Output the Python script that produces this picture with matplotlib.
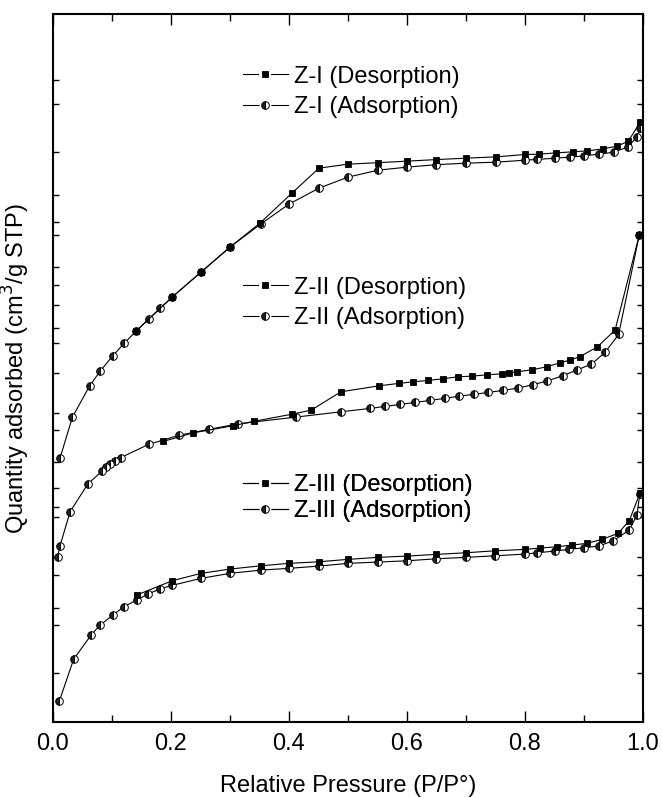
import numpy as np
import matplotlib.pyplot as plt
from matplotlib.lines import Line2D

plt.rcParams['font.family'] = ['Liberation Sans', 'DejaVu Sans']

# relative pressure P/P0 and quantity adsorbed (arbitrary offset units, axis unlabeled)
p_zi_ads = [0.012, 0.033, 0.062, 0.080, 0.101, 0.121, 0.141, 0.162, 0.182, 0.202, 0.251, 0.300,
            0.352, 0.400, 0.451, 0.500, 0.551, 0.600, 0.650, 0.700, 0.751, 0.801, 0.820, 0.851,
            0.876, 0.900, 0.926, 0.951, 0.975, 0.990, 0.996]
q_zi_ads = [264, 305, 336, 351, 366, 379, 391, 403, 414, 425, 450, 475,
            498, 518, 534, 545, 552, 555, 557.5, 559, 560, 562, 562.7, 564,
            565, 566.3, 568, 570, 575.3, 585.3, 594]
p_zi_des = [0.996, 0.975, 0.956, 0.932, 0.906, 0.881, 0.853, 0.824, 0.801, 0.751, 0.701, 0.650,
            0.600, 0.551, 0.500, 0.451, 0.405, 0.351, 0.300, 0.251, 0.202, 0.141]
q_zi_des = [600.3, 580.7, 576, 573.3, 571.3, 570.3, 569.3, 568, 567.7, 565.3, 564, 562.6,
            561, 559.5, 558, 554, 529, 499, 475, 450, 425, 391]

p_zii_ads = [0.008, 0.012, 0.029, 0.059, 0.083, 0.090, 0.097, 0.105, 0.115, 0.162, 0.213, 0.264,
             0.314, 0.412, 0.488, 0.538, 0.563, 0.589, 0.614, 0.639, 0.664, 0.689, 0.713, 0.738,
             0.763, 0.788, 0.813, 0.837, 0.864, 0.888, 0.913, 0.936, 0.959, 0.994]
q_zii_ads = [165.3, 176.3, 210.3, 238, 251, 255.3, 258, 261.3, 264.5, 277.7, 286.7, 292.7,
             298.3, 305, 310.3, 313.7, 315.7, 317.7, 319.7, 321.7, 323.7, 326, 327.7, 329.7,
             331.7, 334, 337.3, 341, 346.3, 352, 358, 369.7, 387.7, 487]
p_zii_des = [0.994, 0.953, 0.923, 0.893, 0.876, 0.860, 0.837, 0.812, 0.786, 0.773, 0.761, 0.736,
             0.711, 0.686, 0.661, 0.636, 0.611, 0.586, 0.553, 0.488, 0.438, 0.406, 0.340, 0.305,
             0.238, 0.187]
q_zii_des = [487, 392, 375.3, 365.3, 362, 359.3, 355.3, 352.3, 350.3, 349.3, 348.3, 347.3,
             346, 345.3, 343.3, 341.7, 340.3, 338.7, 336.3, 330.3, 312, 308, 300.7, 296.3,
             289.3, 280.7]

p_ziii_ads = [0.011, 0.035, 0.065, 0.080, 0.101, 0.120, 0.142, 0.161, 0.181, 0.202, 0.251, 0.300,
              0.353, 0.400, 0.451, 0.500, 0.551, 0.601, 0.650, 0.700, 0.750, 0.801, 0.821, 0.851,
              0.875, 0.900, 0.925, 0.950, 0.977, 0.990, 0.995]
q_ziii_ads = [21.3, 62.7, 87.3, 97, 106.7, 115.3, 122, 128, 133, 136.7, 143.7, 148.7,
              152, 153.7, 156, 158.7, 160, 161.3, 163.3, 164.7, 166.3, 168, 169.3, 171,
              172.7, 174.3, 176, 181.3, 192, 207, 228]
p_ziii_des = [0.995, 0.977, 0.958, 0.931, 0.905, 0.880, 0.854, 0.825, 0.801, 0.750, 0.700, 0.650,
              0.601, 0.551, 0.500, 0.451, 0.400, 0.353, 0.300, 0.251, 0.202, 0.142]
q_ziii_des = [228.7, 201.3, 188.7, 182.7, 178.7, 177, 175.3, 174, 172.7, 171.3, 169.3, 167.7,
              166, 164.7, 162.7, 160.3, 158.7, 156.3, 153, 148.7, 141.3, 127]

y_ticks = [49, 97, 114, 147, 165, 205, 215, 234, 260, 292, 309, 349, 379, 394, 417, 437,
           455, 487, 500, 527, 570, 618, 642]

fig = plt.figure(figsize=(6.62, 7.98), dpi=100)
ax = fig.add_axes([0.080, 0.0952, 0.891, 0.887])

sq = dict(color='black', lw=0.8, marker='s', ms=5, mfc='black', mec='black', mew=0.6)
ci = dict(color='black', lw=0.8, marker='o', ms=5.5, fillstyle='left', mfc='#222222',
          mfcalt='white', mec='black', mew=0.7)

ax.plot(p_zi_ads, q_zi_ads, **ci)
ax.plot(p_zi_des, q_zi_des, **sq)
ax.plot(p_zii_ads, q_zii_ads, **ci)
ax.plot(p_zii_des, q_zii_des, **sq)
ax.plot(p_ziii_ads, q_ziii_ads, **ci)
ax.plot(p_ziii_des, q_ziii_des, **sq)

ax.set_xlim(0, 1.0)
ax.set_ylim(0, 708)
ax.set_xticks(np.arange(0, 1.01, 0.2))
ax.set_xticks(np.arange(0.1, 1.0, 0.2), minor=True)
ax.set_xticklabels(['0.0', '0.2', '0.4', '0.6', '0.8', '1.0'])
ax.set_yticks(y_ticks)
ax.set_yticklabels([])
ax.tick_params(axis='both', which='major', direction='in', top=True, right=True,
               length=8, width=1.0, labelsize=17, pad=8)
ax.tick_params(axis='x', which='minor', direction='in', top=True, length=5, width=1.0)
ax.tick_params(axis='y', which='major', length=4)
for s in ax.spines.values():
    s.set_linewidth(1.5)

ax.set_xlabel('Relative Pressure (P/P°)', fontsize=17, labelpad=14)
ax.set_ylabel('Quantity adsorbed (cm$^3$/g STP)', fontsize=17)
ax.yaxis.set_label_coords(-0.035, 0.5)


def handle(style):
    # white-edged marker under the real one gives the small gap seen in the legend keys
    back = Line2D([], [], color='black', lw=0.8, marker=style['marker'], ms=style['ms'] + 3,
                  mfc='white', mec='white', mew=0)
    front = Line2D([], [], lw=0, **{k: v for k, v in style.items() if k not in ('color', 'lw')})
    return (back, front)


def pair(name, y, spacing):
    lg = ax.legend([handle(sq), handle(ci)], [name + ' (Desorption)', name + ' (Adsorption)'],
                   loc='center left', bbox_to_anchor=(0.322, y), frameon=False,
                   fontsize=17, handlelength=1.9, handletextpad=0.25,
                   labelspacing=spacing, borderpad=0, borderaxespad=0)
    ax.add_artist(lg)


pair('Z-I', 0.8905, 0.35)
pair('Z-II', 0.5925, 0.35)
pair('Z-III', 0.3164, 0.15)

fig.savefig('out.png', dpi=100)
